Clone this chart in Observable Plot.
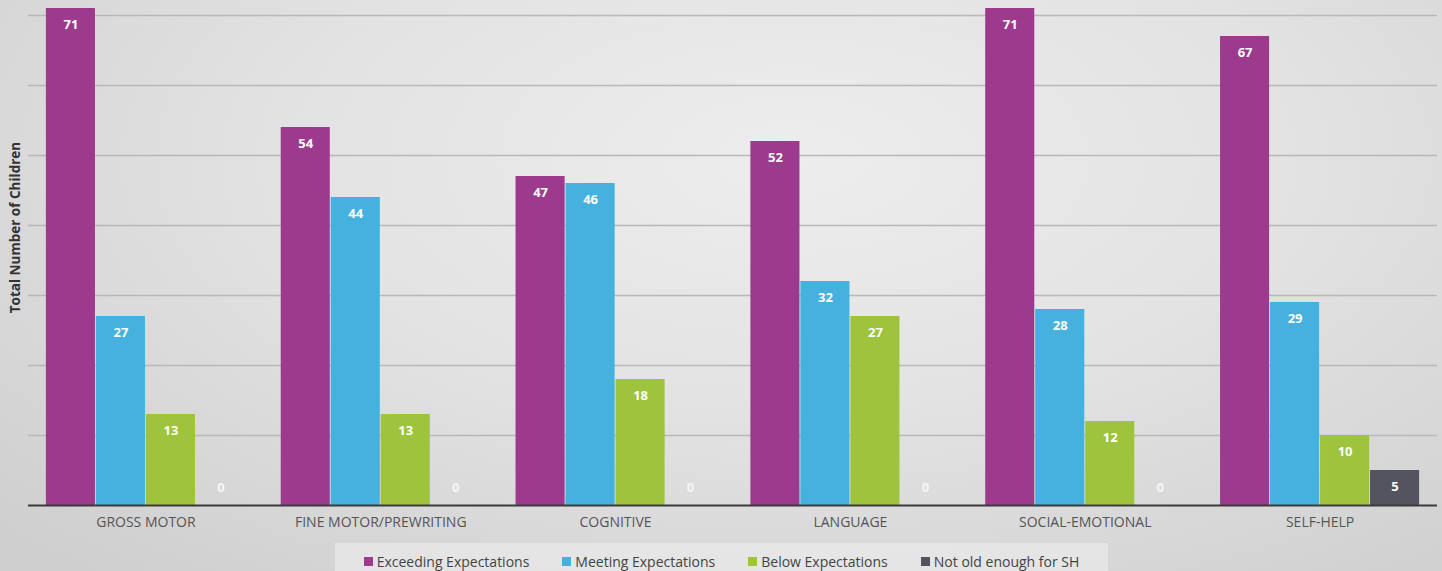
<!DOCTYPE html>
<html>
<head>
<meta charset="utf-8">
<script src="https://cdn.jsdelivr.net/npm/d3@7"></script>
<script src="https://cdn.jsdelivr.net/npm/@observablehq/plot@0.6"></script>
<style>
  html, body { margin: 0; padding: 0; }
  body {
    width: 1442px; height: 571px; overflow: hidden;
    font-family: "Open Sans", sans-serif;
    background: radial-gradient(ellipse 75% 95% at 55% 28%, #ededed 0%, #e3e3e3 45%, #cfcfcf 100%);
  }
  #chart svg { display: block; background: transparent; }
  #legend {
    box-sizing: border-box;
    width: 773px; height: 28px; margin-left: 335px; padding-top: 9px;
    background: rgba(240,240,240,0.55);
    display: flex; align-items: center; justify-content: center; gap: 33px;
    font-size: 14px; color: #444;
  }
  .item { display: flex; align-items: center; gap: 4px; white-space: nowrap; }
  .sw { width: 9px; height: 9px; display: inline-block; }
</style>
</head>
<body>
<div id="chart"></div>
<div id="legend"></div>
<script>
const groups = ["GROSS MOTOR", "FINE MOTOR/PREWRITING", "COGNITIVE", "LANGUAGE", "SOCIAL-EMOTIONAL", "SELF-HELP"];
const seriesNames = ["Exceeding Expectations", "Meeting Expectations", "Below Expectations", "Not old enough for SH"];
const seriesColors = ["#9c3b8e", "#45b1df", "#9ec43d", "#53545f"];
const exceeding = [71, 54, 47, 52, 71, 67];
const meeting = [27, 44, 46, 32, 28, 29];
const below = [13, 13, 18, 27, 12, 10];
const notOld = [0, 0, 0, 0, 0, 5];
const gridTicks = [10, 20, 30, 40, 50, 60, 70];

const seriesValues = [exceeding, meeting, below, notOld];
const data = [];
seriesValues.forEach((vals, s) => vals.forEach((v, g) => data.push({group: groups[g], series: s, value: v})));

const barW = 50;
const marks = [
  Plot.ruleY(gridTicks, {stroke: "#b8b8b8", strokeWidth: 1.5})
];
seriesNames.forEach((name, s) => {
  const sub = data.filter(d => d.series === s);
  marks.push(Plot.barY(sub.filter(d => d.value > 0), {
    x: "group", y: "value", fill: seriesColors[s],
    insetLeft: s * barW + 0.5, insetRight: (3 - s) * barW + 0.5
  }));
  marks.push(Plot.text(sub.filter(d => d.value > 0), {
    x: "group", y: "value", text: d => String(d.value), dx: (s - 1.5) * barW, dy: 16,
    fill: "white", fontWeight: "bold", fontSize: 13, lineAnchor: "middle"
  }));
  marks.push(Plot.text(sub.filter(d => d.value === 0), {
    x: "group", y: "value", text: d => String(d.value), dx: (s - 1.5) * barW, dy: -18,
    fill: "#f6f6f6", fontWeight: "bold", fontSize: 13, lineAnchor: "middle"
  }));
});
marks.push(Plot.ruleY([0], {stroke: "#3a3a3a", strokeWidth: 2}));
marks.push(Plot.axisX({tickSize: 0, tickPadding: 12, fontSize: 14, fill: "#555", label: null}));
marks.push(Plot.text(["Total Number of Children"], {
  frameAnchor: "left", textAnchor: "middle", rotate: -90, dx: -13, dy: -26,
  fontWeight: "bold", fontSize: 13.5, fill: "#333"
}));

const chart = Plot.plot({
  width: 1442, height: 543,
  marginLeft: 28, marginRight: 5, marginTop: 1, marginBottom: 38,
  style: {fontFamily: "'Open Sans', sans-serif", background: "transparent", overflow: "visible"},
  x: {domain: groups, paddingInner: 0.148, paddingOuter: 0.074, round: false, axis: null},
  y: {domain: [0, 72], axis: null},
  marks
});
document.getElementById("chart").appendChild(chart);

const legend = document.getElementById("legend");
seriesNames.forEach((name, s) => {
  const it = document.createElement("div");
  it.className = "item";
  const sw = document.createElement("span");
  sw.className = "sw"; sw.style.background = seriesColors[s];
  const tx = document.createElement("span");
  tx.textContent = name;
  it.appendChild(sw); it.appendChild(tx);
  legend.appendChild(it);
});
</script>
</body>
</html>
